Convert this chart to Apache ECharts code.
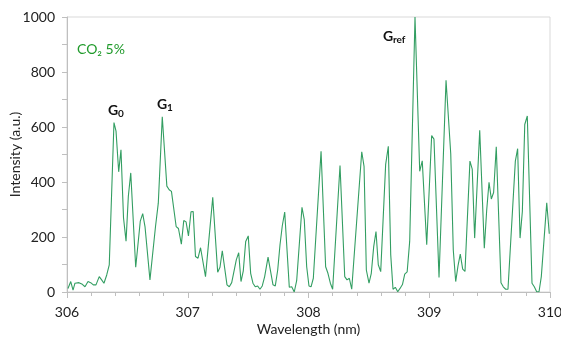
<!DOCTYPE html>
<html><head><meta charset="utf-8">
<script src="https://cdn.jsdelivr.net/npm/echarts@6/dist/echarts.min.js"></script>
<style>html,body{margin:0;padding:0;background:#fff}#c{width:561px;height:338px}</style>
</head><body><div id="c"></div>
<script>
const wavelengths = [306.008,306.031,306.050,306.066,306.099,306.127,306.149,306.174,306.196,306.218,306.240,306.267,306.287,306.306,306.329,306.350,306.389,306.406,306.428,306.447,306.468,306.489,306.508,306.528,306.569,306.607,306.627,306.646,306.687,306.733,306.756,306.789,306.827,306.846,306.865,306.904,306.923,306.947,306.967,306.986,307.006,307.027,307.045,307.064,307.085,307.106,307.147,307.207,307.248,307.267,307.286,307.325,307.344,307.364,307.402,307.422,307.441,307.460,307.480,307.501,307.521,307.540,307.559,307.579,307.598,307.617,307.637,307.665,307.706,307.725,307.745,307.764,307.783,307.803,307.841,307.861,307.882,307.902,307.946,307.965,307.985,308.004,308.021,308.040,308.104,308.142,308.161,308.181,308.200,308.261,308.300,308.319,308.338,308.358,308.441,308.460,308.479,308.501,308.520,308.540,308.559,308.578,308.598,308.639,308.661,308.681,308.700,308.719,308.739,308.758,308.778,308.797,308.817,308.838,308.882,308.921,308.942,308.979,309.020,309.039,309.081,309.139,309.178,309.199,309.219,309.238,309.257,309.277,309.296,309.337,309.356,309.376,309.418,309.456,309.476,309.495,309.514,309.533,309.555,309.594,309.613,309.633,309.652,309.713,309.732,309.752,309.771,309.791,309.812,309.851,309.870,309.890,309.909,309.928,309.973,309.994];
const intensities = [13,38,7,32,34,28,19,38,34,26,26,56,44,32,62,99,616,585,437,517,270,185,348,433,90,258,285,238,44,238,323,637,385,372,366,238,231,174,260,255,204,292,293,129,123,161,56,344,72,90,150,26,19,34,117,143,38,77,184,204,68,32,19,22,10,22,56,127,26,22,80,172,241,291,17,19,0,41,308,263,92,22,19,50,512,92,68,32,10,460,56,44,50,10,510,457,80,32,68,165,220,99,74,464,530,135,10,17,1,13,27,65,73,184,1000,439,477,172,569,556,53,770,503,153,38,95,138,83,75,476,447,196,588,159,299,399,338,362,528,34,19,10,10,476,521,196,293,609,640,32,19,1,1,56,324,212];
const xTicks = [306,307,308,309,310];
const yTicks = [0,200,400,600,800,1000];
const seriesName = 'CO\u2082 5%';

const chart = echarts.init(document.getElementById('c'), null, {renderer:'canvas'});
const font = 'Lato, "Open Sans", sans-serif';
const data = wavelengths.map((w,i)=>[w,intensities[i]]);
chart.setOption({
  animation:false,
  grid:{left:67,right:11,top:17,bottom:46,show:true,borderColor:'#d9d9d9',borderWidth:1,containLabel:false,outerBoundsMode:'none'},
  xAxis:{type:'value',min:xTicks[0],max:xTicks[xTicks.length-1],interval:1,
    name:'Wavelength (nm)',nameLocation:'middle',nameGap:30,nameMoveOverlap:false,
    nameTextStyle:{fontFamily:font,fontSize:14,color:'#222'},
    axisLine:{lineStyle:{color:'#bfbfbf'}},
    axisTick:{show:true,length:6,lineStyle:{color:'#bfbfbf'}},
    minorTick:{show:true,splitNumber:5,length:4,lineStyle:{color:'#bfbfbf'}},
    splitLine:{show:false},
    axisLabel:{fontFamily:font,fontSize:14,color:'#222',margin:13,formatter:v=>String(v)}},
  yAxis:{type:'value',min:yTicks[0],max:yTicks[yTicks.length-1],interval:200,
    name:'Intensity (a.u.)',nameLocation:'middle',nameGap:45,nameMoveOverlap:false,
    nameTextStyle:{fontFamily:font,fontSize:14,color:'#222'},
    axisLine:{show:true,lineStyle:{color:'#bfbfbf'}},
    axisTick:{show:true,length:5,lineStyle:{color:'#bfbfbf'}},
    minorTick:{show:true,splitNumber:2,length:5,lineStyle:{color:'#bfbfbf'}},
    splitLine:{show:false},
    axisLabel:{fontFamily:font,fontSize:14,color:'#222',margin:12,formatter:v=>String(v)}},
  series:[{type:'line',name:seriesName,data:data,showSymbol:false,symbol:'none',
    lineStyle:{color:'#339e62',width:1.1}}],
  graphic:[
    {type:'text',left:77,top:42,style:{text:seriesName,fontFamily:font,fontSize:14,fill:'#1f9a2a'}},
    {type:'text',left:108,top:103,style:{text:'G',fontFamily:font,fontSize:14,fontWeight:'bold',fill:'#111'}},
    {type:'text',left:118,top:109,style:{text:'0',fontFamily:font,fontSize:10,fontWeight:'bold',fill:'#111'}},
    {type:'text',left:157,top:97,style:{text:'G',fontFamily:font,fontSize:14,fontWeight:'bold',fill:'#111'}},
    {type:'text',left:167,top:103,style:{text:'1',fontFamily:font,fontSize:10,fontWeight:'bold',fill:'#111'}},
    {type:'text',left:383,top:29,style:{text:'G',fontFamily:font,fontSize:14,fontWeight:'bold',fill:'#111'}},
    {type:'text',left:393,top:35,style:{text:'ref',fontFamily:font,fontSize:10,fontWeight:'bold',fill:'#111'}}
  ]
});
</script></body></html>
